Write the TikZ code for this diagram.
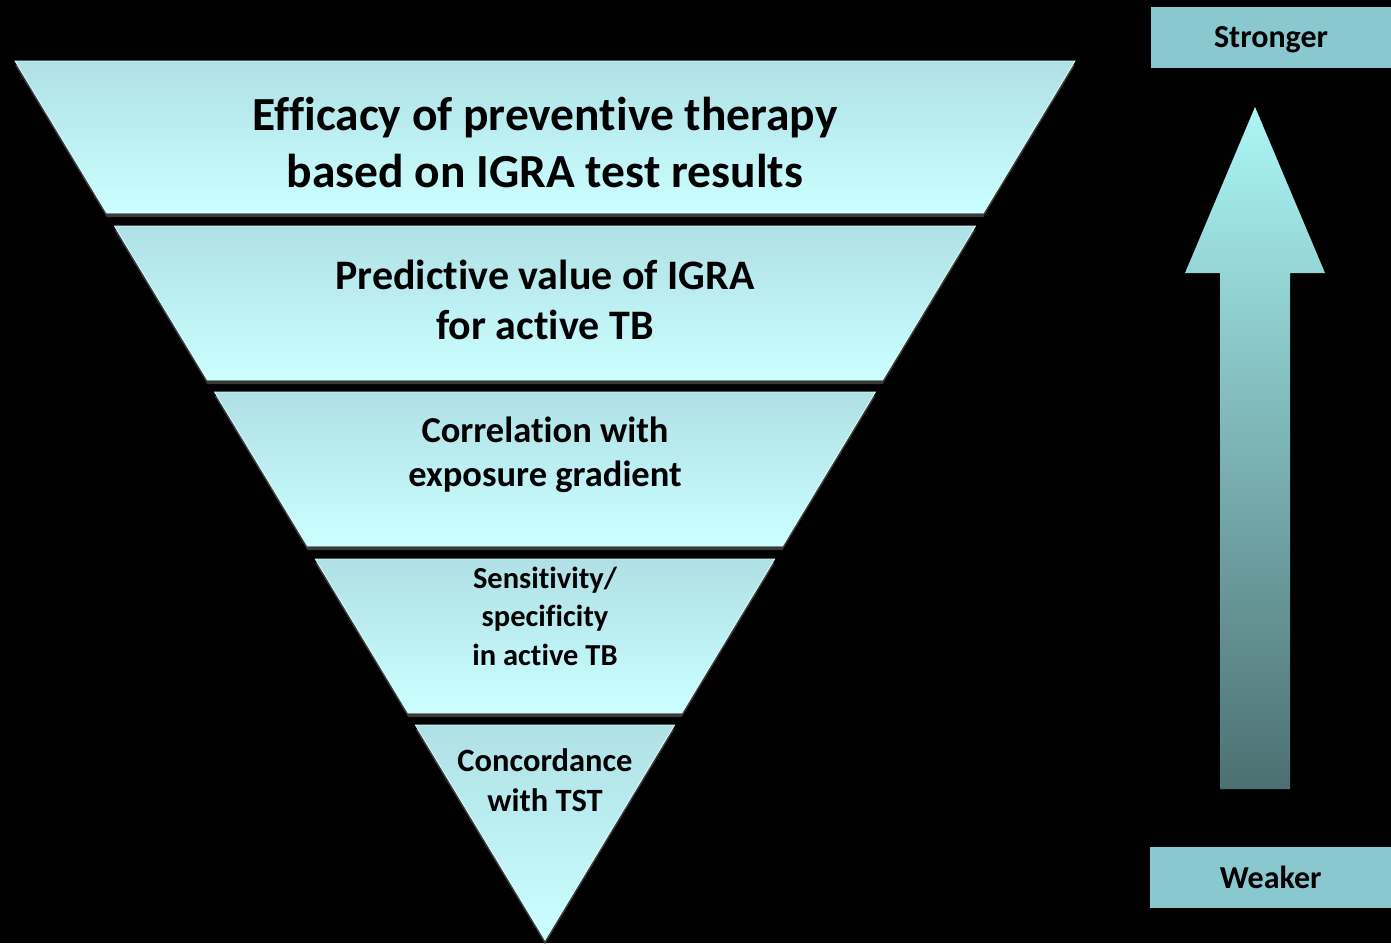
\documentclass[tikz,border=0pt]{standalone}
\usepackage{fontspec}
\setmainfont{Carlito}[Ligatures=NoCommon]
\usetikzlibrary{calc}
\definecolor{layertop}{RGB}{174,224,229}
\definecolor{layerbot}{RGB}{204,255,255}
\definecolor{layeredge}{RGB}{214,255,255}
\definecolor{shadowgray}{RGB}{58,58,58}
\definecolor{arrowtop}{RGB}{172,246,246}
\definecolor{arrowbot}{RGB}{76,112,114}
\definecolor{labelbox}{RGB}{138,200,207}
\tikzset{
  layertext/.style={align=center, font=\bfseries, text=black, inner sep=0pt},
  tagbox/.style={fill=labelbox, minimum width=241pt, minimum height=61pt, inner sep=0pt, font=\bfseries\fontsize{32}{34}\selectfont},
}
% half width of the inverted triangle at a given depth
\newcommand{\halfw}[2]{\pgfmathsetmacro#1{0.602958*(940-#2)}}
% one band of the inverted pyramid between two depths
\newcommand{\pyrband}[2]{%
  \halfw{\wa}{#1}\halfw{\wb}{#2}%
  \fill[shadowgray] ({545-\wa},{#1+4}) -- ({545+\wa},{#1+4}) -- ({545+\wb},{#2+4}) -- ({545-\wb},{#2+4}) -- cycle;
  \shade[top color=layertop, bottom color=layerbot] ({545-\wa},#1) -- ({545+\wa},#1) -- ({545+\wb},#2) -- ({545-\wb},#2) -- cycle;
  \draw[layeredge, line width=0.8pt] ({545-\wa},#1) -- ({545+\wa},#1) -- ({545+\wb},#2) -- ({545-\wb},#2) -- cycle;
}
\begin{document}
\begin{tikzpicture}[x=1pt, y=-1pt]
\fill[black] (0,0) rectangle (1391,943);
\useasboundingbox (0,0) rectangle (1391,943);

% pyramid bands
\pyrband{61}{213}
\pyrband{226}{380}
\pyrband{392}{546}
\pyrband{559}{713}
% bottom tip
\fill[shadowgray] (415.4,729) -- (674.6,729) -- (545,944) -- cycle;
\shade[top color=layertop, bottom color=layerbot] (415.4,725) -- (674.6,725) -- (545,940) -- cycle;
\draw[layeredge, line width=0.8pt] (415.4,725) -- (674.6,725) -- (545,940) -- cycle;

% band labels
\node[layertext, font=\bfseries\fontsize{47.5}{57}\selectfont] (efficacy) at (545,143) {Efficacy of preventive therapy\\based on IGRA test results};
\node[layertext, font=\bfseries\fontsize{42}{50}\selectfont] (predictive) at (545,300) {Predictive value of IGRA\\for active TB};
\node[layertext, font=\bfseries\fontsize{36.5}{44}\selectfont] (correlation) at (545,455) {Correlation with\\exposure gradient};
\node[layertext, font=\bfseries\fontsize{30.5}{38.5}\selectfont] (sensitivity) at (545,616) {Sensitivity/\\specificity\\in active TB};
\node[layertext, font=\bfseries\fontsize{32.5}{40}\selectfont] (concordance) at (545,780) {Concordance\\with TST};

% strength arrow
\shade[top color=arrowtop, bottom color=arrowbot]
  (1255,107) -- (1325,273) -- (1290,273) -- (1290,789) -- (1220,789) -- (1220,273) -- (1185,273) -- cycle;

% scale labels
\fill[labelbox] (1151,7) rectangle (1391,68);
\node[font=\bfseries\fontsize{32}{34}\selectfont, inner sep=0pt] (stronger) at (1271,39.5) {Stronger};
\node[tagbox, anchor=north west] (weaker) at (1150,847) {Weaker};
\end{tikzpicture}
\end{document}
